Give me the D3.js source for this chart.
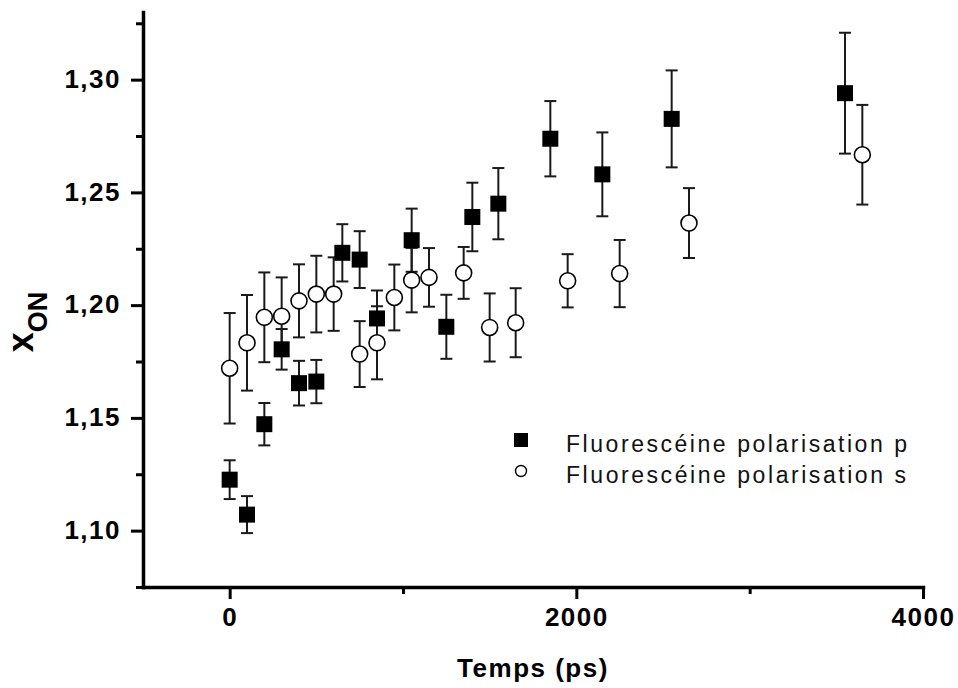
<!DOCTYPE html>
<html>
<head>
<meta charset="utf-8">
<script src="https://cdn.jsdelivr.net/npm/d3@7"></script>
<style>
  html, body { margin: 0; padding: 0; background: #fff; }
  svg { display: block; }
  text { font-family: "Liberation Sans", Arial, sans-serif; }
</style>
</head>
<body>
<svg id="chart" width="958" height="688"></svg>
<script>
// ---- data ----
const seriesNames = ["Fluorescéine polarisation p", "Fluorescéine polarisation s"];

const pTime  = [0, 100, 200, 300, 400, 500, 650, 750, 850, 1050, 1250, 1400, 1550, 1850, 2150, 2550, 3550];
const pValue = [1.1226, 1.1071, 1.1472, 1.1804, 1.1654, 1.1661, 1.2232, 1.2202, 1.1941, 1.2288, 1.1904, 1.2391, 1.2450, 1.2738, 1.2580, 1.2826, 1.2940];
const pError = [0.0086, 0.0082, 0.0094, 0.0090, 0.0099, 0.0096, 0.0127, 0.0126, 0.0124, 0.0140, 0.0142, 0.0152, 0.0158, 0.0167, 0.0186, 0.0215, 0.0268];

const sTime  = [0, 100, 200, 300, 400, 500, 600, 750, 850, 950, 1050, 1150, 1350, 1500, 1650, 1950, 2250, 2650, 3650];
const sValue = [1.1720, 1.1833, 1.1946, 1.1951, 1.2019, 1.2049, 1.2049, 1.1783, 1.1833, 1.2034, 1.2111, 1.2123, 1.2143, 1.1901, 1.1922, 1.2108, 1.2140, 1.2364, 1.2667];
const sError = [0.0245, 0.0212, 0.0199, 0.0172, 0.0162, 0.0170, 0.0163, 0.0146, 0.0162, 0.0146, 0.0143, 0.0130, 0.0115, 0.0151, 0.0153, 0.0118, 0.0149, 0.0155, 0.0221];

const xMajorTicks = [0, 2000, 4000];
const xMinorTicks = [1000, 3000];
const yMajorTicks = [1.10, 1.15, 1.20, 1.25, 1.30];
const yMinorTicks = [1.075, 1.125, 1.175, 1.225, 1.275, 1.325];
const xDomain = [-500, 4000];
const yDomain = [1.075, 1.33];
const xTitle = "Temps (ps)";
const yTitleMain = "x";
const yTitleSub = "ON";

// ---- layout ----
const svg = d3.select("#chart");
const plotLeft = 143, plotRight = 923, plotTop = 12, plotBottom = 587;

const x = d3.scaleLinear().domain(xDomain).range([plotLeft, plotRight]);
const y = d3.scaleLinear().domain(yDomain).range([plotBottom, plotTop]);

const pData = pTime.map((t, i) => ({ t, v: pValue[i], e: pError[i] }));
const sData = sTime.map((t, i) => ({ t, v: sValue[i], e: sError[i] }));

const fmtY = d => d3.format(".2f")(d).replace(".", ",");

// ---- axes ----
const yAxisG = svg.append("g").attr("transform", `translate(${plotLeft},0)`)
  .call(d3.axisLeft(y).tickValues(yMajorTicks).tickSize(12).tickSizeOuter(0).tickPadding(10).tickFormat(fmtY));
svg.append("g").attr("transform", `translate(${plotLeft},0)`)
  .call(d3.axisLeft(y).tickValues(yMinorTicks).tickSize(7).tickSizeOuter(0).tickFormat(""))
  .select(".domain").remove();

const xAxisG = svg.append("g").attr("transform", `translate(0,${plotBottom})`)
  .call(d3.axisBottom(x).tickValues(xMajorTicks).tickSize(12).tickSizeOuter(0).tickPadding(9).tickFormat(d3.format("d")));
svg.append("g").attr("transform", `translate(0,${plotBottom})`)
  .call(d3.axisBottom(x).tickValues(xMinorTicks).tickSize(7).tickSizeOuter(0).tickFormat(""))
  .select(".domain").remove();

svg.selectAll(".domain").attr("stroke", "#000").attr("stroke-width", 3.5).attr("stroke-linecap", "square");
svg.selectAll(".tick line").attr("stroke", "#000").attr("stroke-width", 3);
svg.selectAll(".tick text")
  .attr("fill", "#000")
  .style("font-size", "26px")
  .style("font-weight", "bold")
  .style("letter-spacing", "1.5px");
yAxisG.selectAll(".tick text").attr("dy", "0.3em");

// axis titles
svg.append("text")
  .attr("x", 533).attr("y", 677)
  .attr("text-anchor", "middle")
  .style("font-size", "26px").style("font-weight", "bold").style("letter-spacing", "1.5px")
  .text(xTitle);

const yt = svg.append("text")
  .attr("transform", "translate(33,322) rotate(-90)")
  .attr("text-anchor", "middle")
  .style("font-weight", "bold");
yt.append("tspan").style("font-size", "36px").text(yTitleMain);
yt.append("tspan").style("font-size", "27px").attr("dy", 14).text(yTitleSub);

// ---- error bars ----
const capW = 6;
function errorBars(data) {
  const g = svg.append("g").attr("stroke", "#1a1a1a").attr("stroke-width", 2).attr("fill", "none");
  data.forEach(d => {
    const cx = x(d.t), y1 = y(d.v + d.e), y0 = y(d.v - d.e);
    g.append("line").attr("x1", cx).attr("x2", cx).attr("y1", y1).attr("y2", y0);
    g.append("line").attr("x1", cx - capW).attr("x2", cx + capW).attr("y1", y1).attr("y2", y1);
    g.append("line").attr("x1", cx - capW).attr("x2", cx + capW).attr("y1", y0).attr("y2", y0);
  });
}
errorBars(pData);
errorBars(sData);

// ---- markers ----
const sq = 16;
svg.append("g").selectAll("rect").data(pData).join("rect")
  .attr("x", d => x(d.t) - sq / 2).attr("y", d => y(d.v) - sq / 2)
  .attr("width", sq).attr("height", sq)
  .attr("fill", "#000");

svg.append("g").selectAll("circle").data(sData).join("circle")
  .attr("cx", d => x(d.t)).attr("cy", d => y(d.v)).attr("r", 8)
  .attr("fill", "#fff").attr("stroke", "#000").attr("stroke-width", 1.6);

// ---- legend ----
const lg = svg.append("g");
lg.append("rect").attr("x", 521 - 7).attr("y", 440 - 7).attr("width", 14).attr("height", 14).attr("fill", "#000");
lg.append("circle").attr("cx", 521).attr("cy", 471).attr("r", 5.5).attr("fill", "#fff").attr("stroke", "#000").attr("stroke-width", 1.4);
lg.append("text").attr("x", 566).attr("y", 452)
  .attr("textLength", 341).attr("lengthAdjust", "spacing")
  .style("font-size", "23px").attr("fill", "#111").text(seriesNames[0]);
lg.append("text").attr("x", 566).attr("y", 483)
  .attr("textLength", 340).attr("lengthAdjust", "spacing")
  .style("font-size", "23px").attr("fill", "#111").text(seriesNames[1]);
</script>
</body>
</html>
